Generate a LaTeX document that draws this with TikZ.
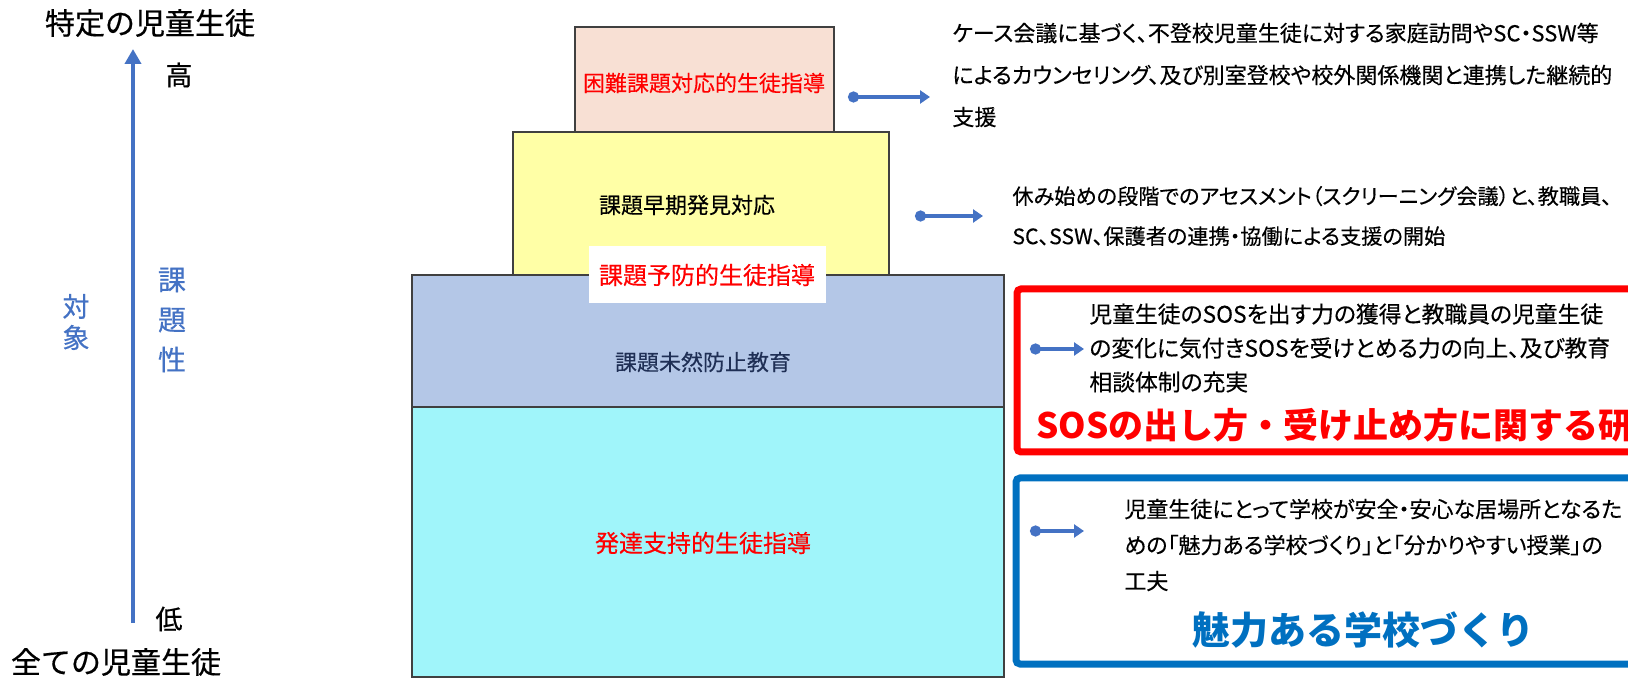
\documentclass[tikz,border=0pt]{standalone}
\usepackage{fontspec}
\setmainfont{Noto Sans CJK JP}
\newfontfamily\jp[RawFeature=+palt, FakeBold=0.3]{Noto Sans CJK JP}
\newfontfamily\lbl[FakeBold=0.5]{Noto Sans CJK JP}
\usetikzlibrary{arrows.meta}
\definecolor{axblue}{HTML}{4472C4}
\definecolor{peach}{HTML}{F8E0D4}
\definecolor{lyellow}{HTML}{FFFFA6}
\definecolor{lblue}{HTML}{B4C7E7}
\definecolor{lcyan}{HTML}{A0F5FA}
\definecolor{navytxt}{HTML}{1F2F55}
\definecolor{pureRed}{HTML}{FF0000}
\definecolor{deepblue}{HTML}{0070C0}
\definecolor{edge}{HTML}{404040}
\begin{document}
\begin{tikzpicture}[x=0.5pt,y=-0.5pt,
  lvl/.style={draw=edge, line width=1pt, inner sep=0pt},
  boxtxt/.style={inner sep=0pt, font=\jp\fontsize{11pt}{13pt}\selectfont},
  bigboxtxt/.style={inner sep=0pt, font=\jp\fontsize{12pt}{14pt}\selectfont},
  sidetxt/.style={inner sep=0pt, anchor=west, align=left},
  ptr/.style={draw=axblue, line width=2pt, {Circle[length=5.5pt]}-{Triangle[length=5pt,width=6.5pt]}},
  axis/.style={draw=axblue, line width=2pt, -{Triangle[length=7.5pt,width=8pt]}},
  lefttxt/.style={inner sep=0pt, font=\lbl\fontsize{15pt}{17pt}\selectfont},
  vtxt/.style={inner sep=0pt, align=center, text=axblue}
]
\useasboundingbox (0,0) rectangle (1628,678);
\clip (0,0) rectangle (1628,678);

% left axis
\coordinate (axb) at (133,623);
\coordinate (axt) at (133,49);
\draw[axis] (axb) -- (axt);
\node[lefttxt] (spec) at (150,23) {特定の児童生徒};
\node[lefttxt] (allst) at (116,662) {全ての児童生徒};
\node[inner sep=0pt, font=\lbl\fontsize{13.5pt}{15pt}\selectfont] (hi) at (179,75) {高};
\node[inner sep=0pt, font=\lbl\fontsize{13.5pt}{15pt}\selectfont] (lo) at (169,619) {低};
\node[vtxt, font=\lbl\fontsize{13.5pt}{15.5pt}\selectfont] (taisho) at (76,322) {対\\象};
\node[vtxt, font=\lbl\fontsize{14pt}{20pt}\selectfont] (kadai) at (172,320) {課\\題\\性};

% pyramid boxes
\node[lvl, fill=lcyan, minimum width=296pt, minimum height=135pt] (b4) at (708,542) {};
\node[lvl, fill=lblue, minimum width=296pt, minimum height=66pt] (b3) at (708,341) {};
\node[lvl, fill=lyellow, minimum width=188pt, minimum height=71.5pt] (b2) at (701,203.5) {};
\node[lvl, fill=peach, minimum width=129.5pt, minimum height=52.5pt] (b1) at (704.5,79.5) {};
\node[fill=white, inner sep=0pt, minimum width=118.5pt, minimum height=28.5pt] (lab) at (707.5,274.5) {};

\node[boxtxt, text=pureRed] (t1) at (704,83) {困難課題対応的生徒指導};
\node[boxtxt, text=black] (t2) at (687,205) {課題早期発見対応};
\node[bigboxtxt, text=pureRed] (tl) at (707,275) {課題予防的生徒指導};
\node[boxtxt, text=navytxt] (t3) at (703,362) {課題未然防止教育};
\node[bigboxtxt, text=pureRed] (t4) at (703,543) {発達支持的生徒指導};

% framed boxes on the right
\draw[pureRed, line width=3.5pt, rounded corners=2pt] (1017,289) rectangle (1660,452);
\draw[deepblue, line width=3.5pt, rounded corners=2pt] (1016,478) rectangle (1660,664);

% side texts
\node[sidetxt, font=\jp\fontsize{11pt}{21pt}\selectfont] (d1) at (952,75)
  {ケース会議に基づく、不登校児童生徒に対する家庭訪問やSC・SSW等\\によるカウンセリング、及び別室登校や校外関係機関と連携した継続的\\支援};
\node[sidetxt, font=\jp\fontsize{10.6pt}{20pt}\selectfont] (d2) at (1012,216)
  {休み始めの段階でのアセスメント（スクリーニング会議）と、教職員、\\SC、SSW、保護者の連携・協働による支援の開始};
\node[sidetxt, font=\jp\fontsize{11.4pt}{17pt}\selectfont] (d3) at (1089,348)
  {児童生徒のSOSを出す力の獲得と教職員の児童生徒\\の変化に気付きSOSを受けとめる力の向上、及び教育\\相談体制の充実};
\node[sidetxt, font=\jp\fontsize{11pt}{18pt}\selectfont] (d4) at (1124,545)
  {児童生徒にとって学校が安全・安心な居場所となるた\\めの「魅力ある学校づくり」と「分かりやすい授業」の\\工夫};
\node[sidetxt, text=pureRed, font=\bfseries\fontsize{17.5pt}{20pt}\selectfont] (big1) at (1036,425)
  {SOSの出し方・受け止め方に関する研修};
\node[inner sep=0pt, text=deepblue, font=\bfseries\fontsize{19pt}{21pt}\selectfont] (big2) at (1363,630)
  {魅力ある学校づくり};

% connectors
\coordinate (a1s) at (848,97);  \coordinate (a1e) at (930,97);
\coordinate (a2s) at (915,216); \coordinate (a2e) at (983,216);
\coordinate (a3s) at (1030,349); \coordinate (a3e) at (1084,349);
\coordinate (a4s) at (1030,531); \coordinate (a4e) at (1084,531);
\draw[ptr] (a1s) -- (a1e);
\draw[ptr] (a2s) -- (a2e);
\draw[ptr] (a3s) -- (a3e);
\draw[ptr] (a4s) -- (a4e);
\end{tikzpicture}
\end{document}
